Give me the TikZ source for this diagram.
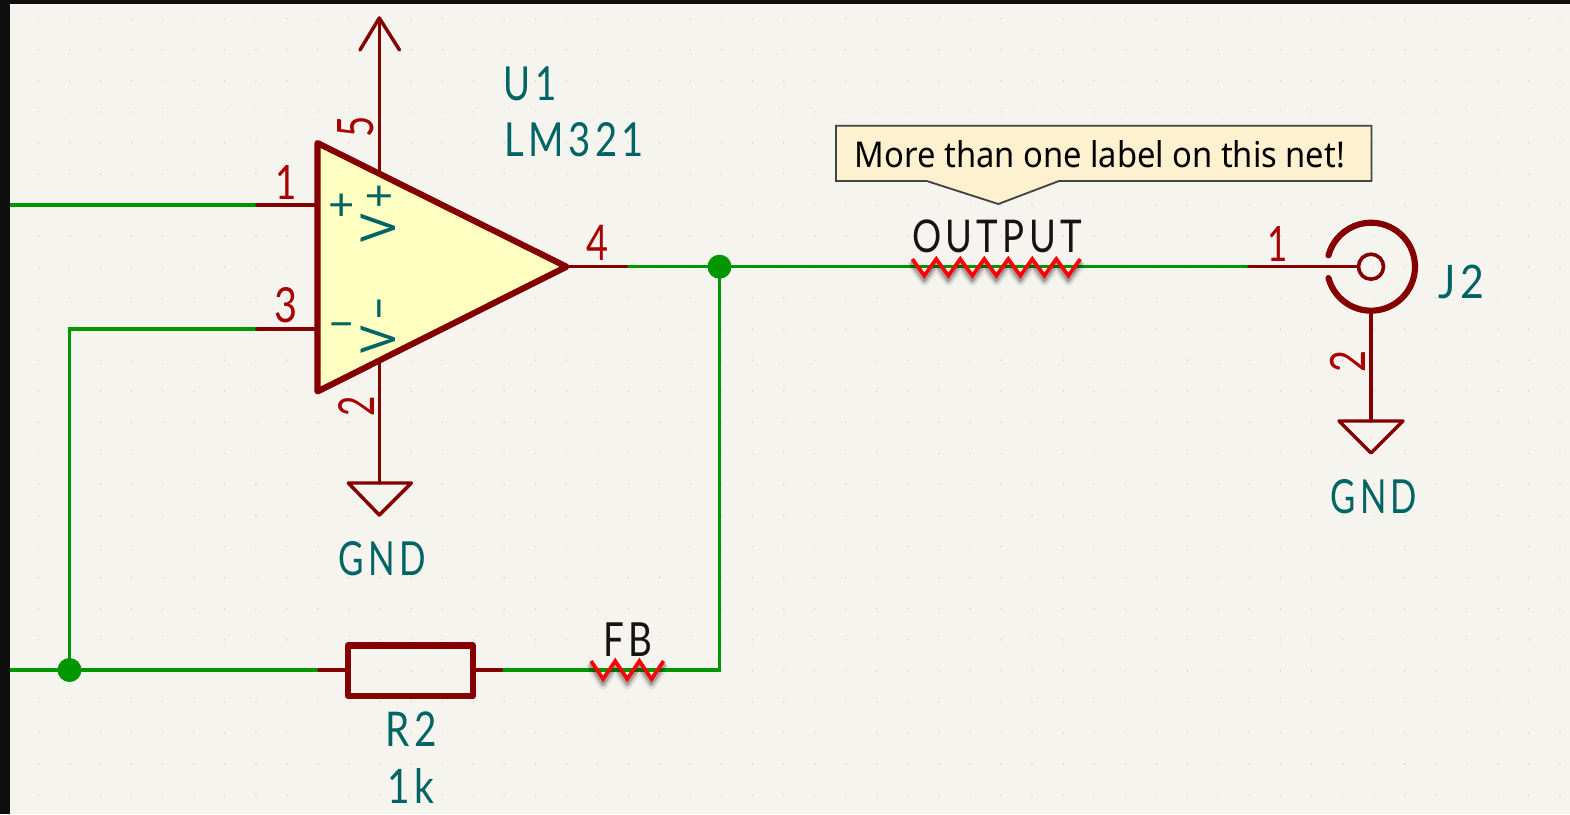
\documentclass[tikz,border=0pt]{standalone}
\usepackage{fontspec}
\usepackage{graphicx}
\usetikzlibrary{calc}
\setmainfont{Lato}
\newfontfamily\kifont[LetterSpace=12]{Lato}
\newfontfamily\msgfont{Noto Sans}
\newdimen\pxu \pxu=0.75pt
\definecolor{bgc}{HTML}{F5F4EF}
\definecolor{framec}{HTML}{0E0E0E}
\definecolor{gridc}{HTML}{DADAD5}
\definecolor{wirec}{HTML}{009600}
\definecolor{symc}{HTML}{840000}
\definecolor{numc}{HTML}{A90000}
\definecolor{tealc}{HTML}{006464}
\definecolor{fillc}{HTML}{FFFFC2}
\definecolor{notec}{HTML}{FDF1CF}
\definecolor{noteedge}{HTML}{444444}
\definecolor{labelc}{HTML}{141414}
\newcommand{\kt}[3]{\resizebox{#1\pxu}{#2\pxu}{\kifont #3}}
\tikzset{
  txt/.style={inner sep=0pt,outer sep=0pt,anchor=center},
  refdes/.style={txt,text=tealc},
  pinnum/.style={txt,text=numc},
  netlabel/.style={txt,text=labelc},
  wire/.style={draw=wirec,line width=2.5pt},
  pinline/.style={draw=symc,line width=2.4pt,line cap=round},
  body/.style={draw=symc,line width=4.6pt,line join=round,line cap=round},
  powersym/.style={draw=symc,line width=2.6pt,line join=round,line cap=round},
  junction/.style={circle,fill=wirec,minimum size=18pt,inner sep=0pt},
  squig/.style={draw=red,line width=2.8pt,line join=miter},
  squigshade/.style={draw=black,line join=round,line cap=round},
  gdot/.style={fill=gridc,draw=none},
}
\begin{document}
\begin{tikzpicture}[x=0.75pt,y=-0.75pt]
\useasboundingbox (0,0) rectangle (1570,814);
\fill[bgc] (0,0) rectangle (1570,814);
% grid
\foreach \i in {0,...,49}{\foreach \j in {0,...,25}{
  \fill[gdot] ({38.5+31.05*\i},{18.7+31.05*\j}) circle (0.9);
}}
\fill[framec] (0,0) rectangle (10,814);
\fill[framec] (0,0) rectangle (1570,4);
% anchor points
\coordinate (wA) at (10,205); \coordinate (p1w) at (257,205); \coordinate (p1b) at (317,205);
\coordinate (p3w) at (257,329); \coordinate (p3b) at (317,329); \coordinate (fbtop) at (69.5,329);
\coordinate (wB) at (10,670); \coordinate (r2lw) at (319,670); \coordinate (r2l) at (348,670);
\coordinate (r2r) at (473,670); \coordinate (r2rw) at (501.5,670);
\coordinate (corner) at (719.5,670);
\coordinate (tl) at (317.5,143); \coordinate (tr) at (566.5,266.7); \coordinate (tb) at (317.5,391.5);
\coordinate (p4w) at (626.7,266.7); \coordinate (j2w) at (1249,266.7);
\coordinate (j2c) at (1371,266.7);
\coordinate (p5b) at (379.3,172); \coordinate (p5t) at (379.3,18);
\coordinate (p2b) at (379.3,361); \coordinate (p2g) at (379.3,483);
\coordinate (j2b) at (1371,311); \coordinate (j2g) at (1371,421);
% junction nodes
\node[junction] (jout) at (719.5,266.7) {};
\node[junction] (jfb) at (69.5,670) {};
% wires
\draw[wire] (wA) -- (p1w);
\draw[wire] (p3w) -- (fbtop) -- (jfb.center);
\draw[wire] (wB) -- (r2lw);
\draw[wire] (r2rw) -- (corner) -- (jout.center);
\draw[wire] (p4w) -- (j2w);
% pins
\draw[pinline] (p1w) -- (p1b);
\draw[pinline] (p3w) -- (p3b);
\draw[pinline] (tr) -- (p4w);
\draw[pinline] (r2lw) -- (r2l);
\draw[pinline] (r2r) -- (r2rw);
\draw[pinline] (p5b) -- (p5t);
\draw[pinline] (p2b) -- (p2g);
\draw[pinline] (j2b) -- (j2g);
% power symbols
\draw[powersym] (360,50) -- (p5t) -- (399.5,50);
\draw[powersym] (p2g) -- ++(-31,0) -- ++(31,32) -- ++(32,-32) -- cycle;
\draw[powersym] (j2g) -- ++(-32,0) -- ++(32,32) -- ++(32,-32) -- cycle;
% op-amp
\draw[body,fill=fillc] (tl) -- (tr) -- (tb) -- cycle;
% resistor
\draw[body] (348,645.5) rectangle (472.7,696);
% connector
\draw[draw=symc,line width=4.6pt,line cap=round] (j2c) ++(165:44) arc[start angle=165,end angle=-165,radius=44];
\draw[pinline] (j2w) -- ($(j2c)+(-13,0)$);
\draw[draw=symc,line width=2.7pt] (j2c) circle (12.5);
% callout
\draw[draw=noteedge,fill=notec,line width=1.4pt,line join=miter] (836,125.7) -- (1371.5,125.7) -- (1371.5,181) -- (1059,181) -- (998.3,204) -- (926.7,181) -- (836,181) -- cycle;
\node[txt,text=black] (msg) at (1100,154.5) {\resizebox{490\pxu}{27\pxu}{\msgfont More than one label on this net!}};
% squiggles
\foreach \o/\a/\w in {0.08/6/9,0.12/5/6,0.18/4.5/3.5}{
  \draw[squigshade,opacity=\o,line width=\w*0.75pt,yshift=-\a*0.75pt] (912.3,259) -- ++(12,16.7) -- ++(12,-16.7) -- ++(12,16.7) -- ++(12,-16.7) -- ++(12,16.7) -- ++(12,-16.7) -- ++(12,16.7) -- ++(12,-16.7) -- ++(12,16.7) -- ++(12,-16.7) -- ++(12,16.7) -- ++(12,-16.7) -- ++(12,16.7) -- ++(12,-16.7);
  \draw[squigshade,opacity=\o,line width=\w*0.75pt,yshift=-\a*0.75pt] (591,661) -- ++(12.1,18) -- ++(12.1,-18) -- ++(12.1,18) -- ++(12.1,-18) -- ++(12.1,18) -- ++(12.1,-18);
}
\draw[squig] (912.3,259) -- ++(12,16.7) -- ++(12,-16.7) -- ++(12,16.7) -- ++(12,-16.7) -- ++(12,16.7) -- ++(12,-16.7) -- ++(12,16.7) -- ++(12,-16.7) -- ++(12,16.7) -- ++(12,-16.7) -- ++(12,16.7) -- ++(12,-16.7) -- ++(12,16.7) -- ++(12,-16.7);
\draw[squig] (591,661) -- ++(12.1,18) -- ++(12.1,-18) -- ++(12.1,18) -- ++(12.1,-18) -- ++(12.1,18) -- ++(12.1,-18);
% labels
\node[netlabel] (lout) at (997,236.3) {\kt{170}{32.7}{OUTPUT}};
\node[netlabel] (lfb) at (627.5,640) {\kt{49}{33.7}{FB}};
\node[refdes] (u1) at (530.3,84) {\kt{52.7}{33.7}{U1}};
\node[refdes] (lm) at (574,140) {\kt{140}{34}{LM321}};
\node[refdes] (j2) at (1461,282.3) {\kt{46}{33.5}{J2}};
\node[refdes] (g1) at (382.5,559) {\kt{87}{34}{GND}};
\node[refdes] (g2) at (1374,497) {\kt{86.3}{34}{GND}};
\node[refdes] (r2) at (411.3,729.3) {\kt{51.3}{34.7}{R2}};
\node[refdes] (r2v) at (410.5,785.5) {\kt{47}{35}{1k}};
\node[refdes,rotate=90] (vp) at (378.5,213) {\kt{58}{34.5}{V+}};
\node[refdes,rotate=90] (vm) at (378.5,325) {\kt{56}{34.5}{V\textminus}};
\node[refdes] (plus) at (341.7,207) {\fontsize{34}{34}\selectfont +};
\node[refdes] (minus) at (341.7,330.7) {\fontsize{34}{34}\selectfont \textminus};
\node[pinnum] (n1) at (286.6,182) {\kt{21.3}{34}{1}};
\node[pinnum] (n3) at (285.5,305.5) {\kt{23}{35}{3}};
\node[pinnum] (n4) at (597,243.3) {\kt{22}{35.3}{4}};
\node[pinnum,rotate=90] (n5) at (356,127.3) {\kt{21.3}{36}{5}};
\node[pinnum,rotate=90] (n2) at (356,406.8) {\kt{20.3}{36}{2}};
\node[pinnum] (n1b) at (1278,244.2) {\kt{20.3}{35}{1}};
\node[pinnum,rotate=90] (n2b) at (1348.3,361) {\kt{22}{35.3}{2}};
\end{tikzpicture}
\end{document}
